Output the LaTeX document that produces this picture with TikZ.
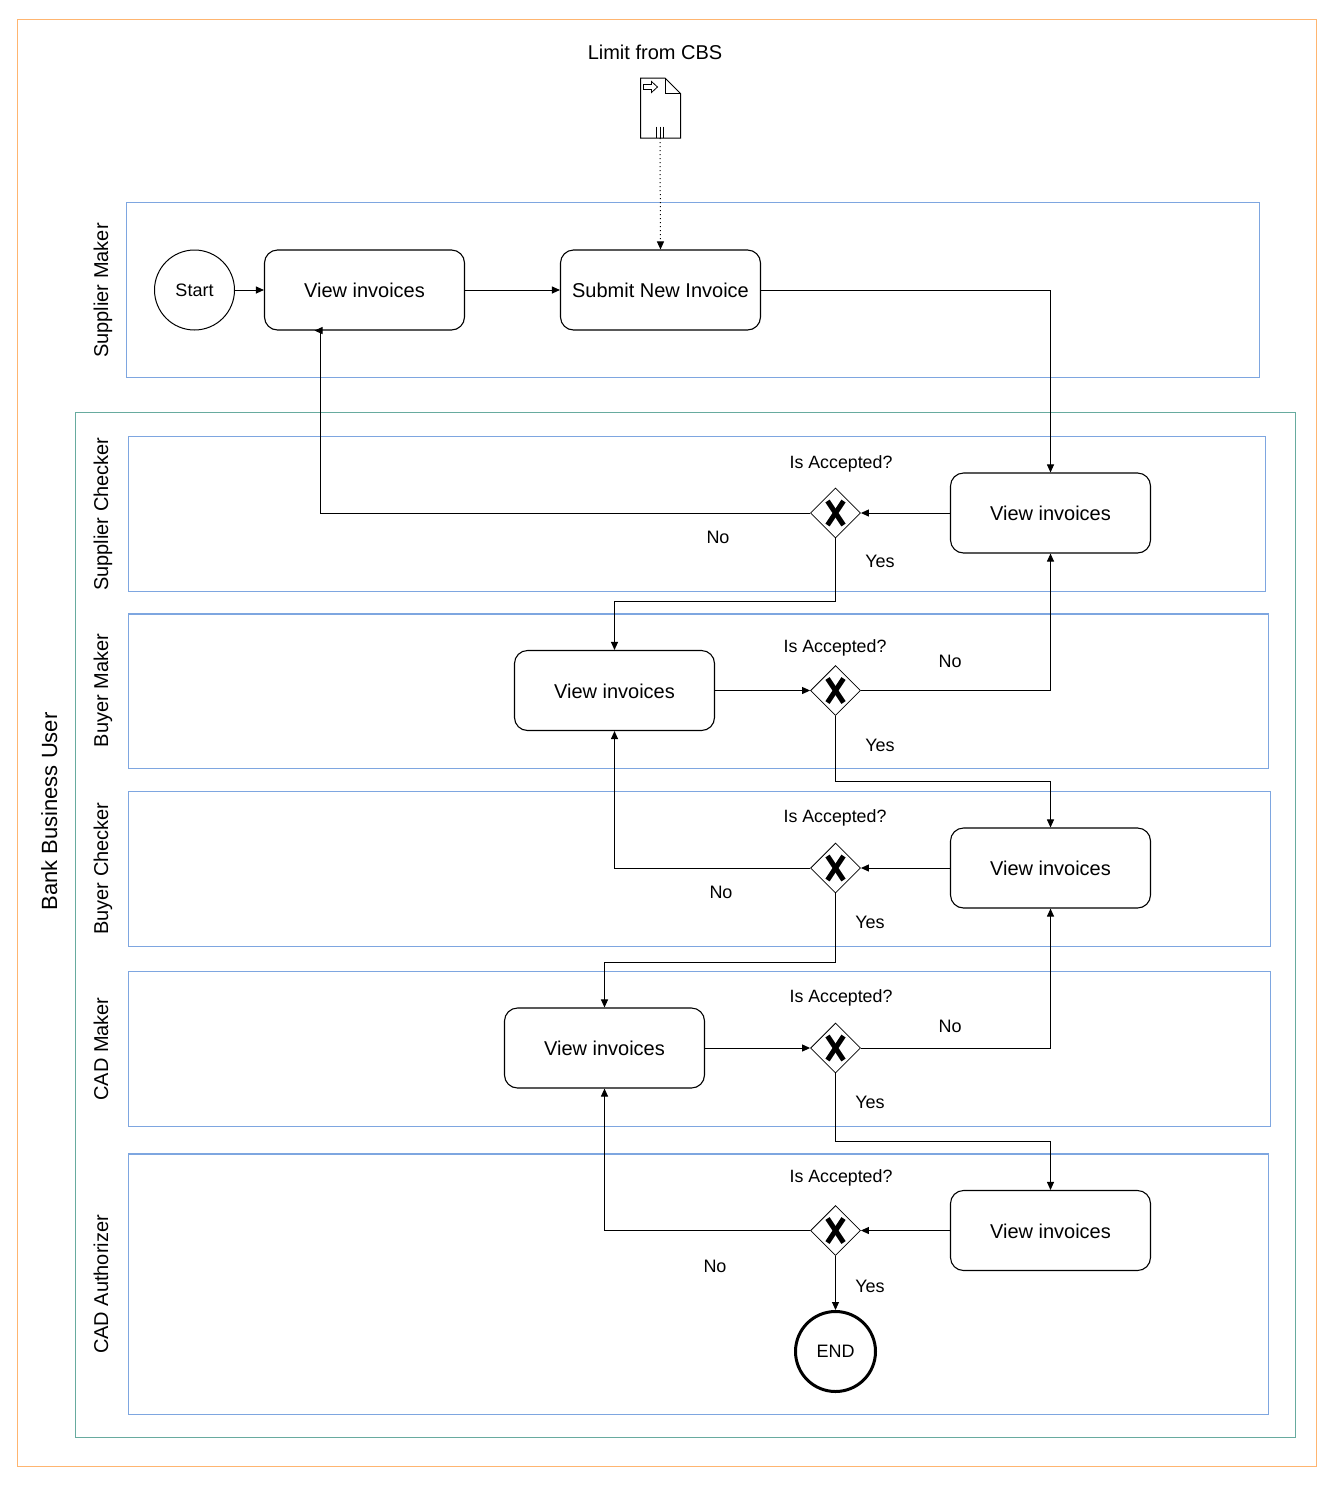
\documentclass[tikz,border=0pt]{standalone}
\usepackage{fontspec}
\setmainfont{Liberation Sans}
\usetikzlibrary{arrows.meta}
\usetikzlibrary{shapes.geometric}
\definecolor{LaneBlue}{HTML}{7EA6E0}
\definecolor{FrameOrange}{HTML}{FFB570}
\definecolor{FrameGreen}{HTML}{67AB9F}
\tikzset{
  lane/.style={draw=LaneBlue,line width=1.3pt},
  lanelabel/.style={rotate=90,font=\fontsize{20}{24}\selectfont,text height=15pt,text depth=4pt,inner sep=0pt},
  task/.style={draw,rounded corners=13pt,line width=1.1pt,minimum width=200pt,minimum height=80pt,font=\fontsize{20}{24}\selectfont,inner sep=0pt,text height=15.5pt,text depth=0pt},
  gate/.style={draw,diamond,aspect=1,line width=.8pt,minimum width=50pt,minimum height=50pt,inner sep=0pt},
  gatemark/.style={line width=5pt},
  txt/.style={font=\fontsize{18}{22}\selectfont,inner sep=0pt},
  asktxt/.style={font=\fontsize{17.8}{22}\selectfont,inner sep=0pt},
  flow/.style={line width=1pt,-{Triangle[length=8pt,width=7pt]}},
}
\newcommand{\gatecross}[1]{%
  \draw[gatemark] ([shift={(-8,-12)}]#1.center) -- ([shift={(8,12)}]#1.center);
  \draw[gatemark] ([shift={(-8,12)}]#1.center) -- ([shift={(8,-12)}]#1.center);
}
\begin{document}
\begin{tikzpicture}[x=1pt,y=-1pt]
    \useasboundingbox (0.5,0.5) rectangle (1344.5,1492.5);
    % outer frames
    \draw[FrameOrange,line width=1.3pt] (18.2,20) rectangle (1316.7,1467.2);
    \draw[FrameGreen,line width=1.3pt] (75.7,413) rectangle (1295.7,1438);

    % lanes
    \draw[lane] (127.2,203) rectangle (1259.7,377.7);
    \draw[lane] (128.7,437) rectangle (1266,591.7);
    \draw[lane] (128.7,614.5) rectangle (1268.7,769.2);
    \draw[lane] (128.7,792) rectangle (1271,946.7);
    \draw[lane] (128.7,972) rectangle (1271,1126.7);
    \draw[lane] (128.7,1154.5) rectangle (1268.7,1414.7);

    \node[lanelabel,font=\fontsize{22}{26}\selectfont,text height=16pt,text depth=5pt] (bankLabel) at (52,812) {Bank Business User};
    \node[lanelabel] (laneSM) at (103,291) {Supplier Maker};
    \node[lanelabel] (laneSC) at (103,514.5) {Supplier Checker};
    \node[lanelabel] (laneBM) at (103,691) {Buyer Maker};
    \node[lanelabel] (laneBC) at (103,869) {Buyer Checker};
    \node[lanelabel] (laneCM) at (103,1049.5) {CAD Maker};
    \node[lanelabel] (laneCA) at (103,1285) {CAD Authorizer};

    % data input
    \node[font=\fontsize{20}{24}\selectfont] (limit) at (655.5,52.5) {Limit from CBS};
    \draw[line width=1pt] (641,78.5) -- (665.5,78.5) -- (681,94) -- (681,138.5) -- (641,138.5) -- cycle;
    \draw[line width=1pt] (665.5,78.5) -- (665.5,94) -- (681,94);
    \draw[line width=.8pt] (644,85) -- (652,85) -- (652,82) -- (658,87.5) -- (652,93) -- (652,90) -- (644,90) -- cycle;
    \draw[line width=.8pt] (657,127) -- (657,138) (660.5,127) -- (660.5,138) (664,127) -- (664,138);
    \coordinate (limitOut) at (660.5,138.5);

    % tasks
    \node[draw,circle,line width=1pt,minimum size=80pt,inner sep=0pt,font=\fontsize{18}{22}\selectfont] (start) at (195,290.5) {Start};
    \node[task] (viewSM) at (365,290.5) {View invoices};
    \node[task] (submit) at (661,290.5) {Submit New Invoice};
    \node[task] (viewSC) at (1051,513.5) {View invoices};
    \node[task] (viewBM) at (615,691) {View invoices};
    \node[task] (viewBC) at (1051,868.5) {View invoices};
    \node[task] (viewCM) at (605,1048.5) {View invoices};
    \node[task] (viewCA) at (1051,1231) {View invoices};
    \node[draw,circle,line width=3pt,minimum size=80pt,inner sep=0pt,font=\fontsize{18}{22}\selectfont] (end) at (836,1352) {END};

    % gateways
    \node[gate] (gateSC) at (836,513.5) {};
    \node[gate] (gateBM) at (836,691) {};
    \node[gate] (gateBC) at (836,868.5) {};
    \node[gate] (gateCM) at (836,1048.5) {};
    \node[gate] (gateCA) at (836,1231) {};
    \gatecross{gateSC}
    \gatecross{gateBM}
    \gatecross{gateBC}
    \gatecross{gateCM}
    \gatecross{gateCA}

    % connectors
    \draw[flow,dash pattern=on 1pt off 3pt] (limitOut) -- (submit.north);
    \draw[flow] (start) -- (viewSM);
    \draw[flow] (viewSM) -- (submit);
    \draw[flow] (submit.east) -| (viewSC.north);
    \draw[flow] (viewSC) -- (gateSC);
    \draw[flow] (gateSC.west) -| ([xshift=-44pt]viewSM.south) -- ([xshift=-50pt]viewSM.south);
    \draw[flow] (gateSC.south) -- ++(0,63.5) -| (viewBM.north);
    \draw[flow] (viewBM) -- (gateBM);
    \draw[flow] (gateBM.east) -| (viewSC.south);
    \draw[flow] (gateBM.south) -- ++(0,66) -| (viewBC.north);
    \draw[flow] (viewBC) -- (gateBC);
    \draw[flow] (gateBC.west) -| (viewBM.south);
    \draw[flow] (gateBC.south) -- ++(0,69) -| (viewCM.north);
    \draw[flow] (viewCM) -- (gateCM);
    \draw[flow] (gateCM.east) -| (viewBC.south);
    \draw[flow] (gateCM.south) -- ++(0,68.5) -| (viewCA.north);
    \draw[flow] (viewCA) -- (gateCA);
    \draw[flow] (gateCA.west) -| (viewCM.south);
    \draw[flow] (gateCA.south) -- (end.north);

    % labels
    \node[asktxt] (askSC) at (841.5,464) {Is Accepted?};
    \node[asktxt] (askBM) at (835.5,648) {Is Accepted?};
    \node[asktxt] (askBC) at (835.5,818) {Is Accepted?};
    \node[asktxt] (askCM) at (841.5,998) {Is Accepted?};
    \node[asktxt] (askCA) at (841.5,1178) {Is Accepted?};
    \node[txt] (noSC) at (718.5,537.5) {No};
    \node[txt] (yesSC) at (880.5,561.5) {Yes};
    \node[txt] (noBM) at (950.5,661.5) {No};
    \node[txt] (yesBM) at (880.5,745.5) {Yes};
    \node[txt] (noBC) at (721.5,892.5) {No};
    \node[txt] (yesBC) at (870.5,922.5) {Yes};
    \node[txt] (noCM) at (950.5,1026.5) {No};
    \node[txt] (yesCM) at (870.5,1102.5) {Yes};
    \node[txt] (noCA) at (715.5,1266.5) {No};
    \node[txt] (yesCA) at (870.5,1286.5) {Yes};
\end{tikzpicture}
\end{document}
